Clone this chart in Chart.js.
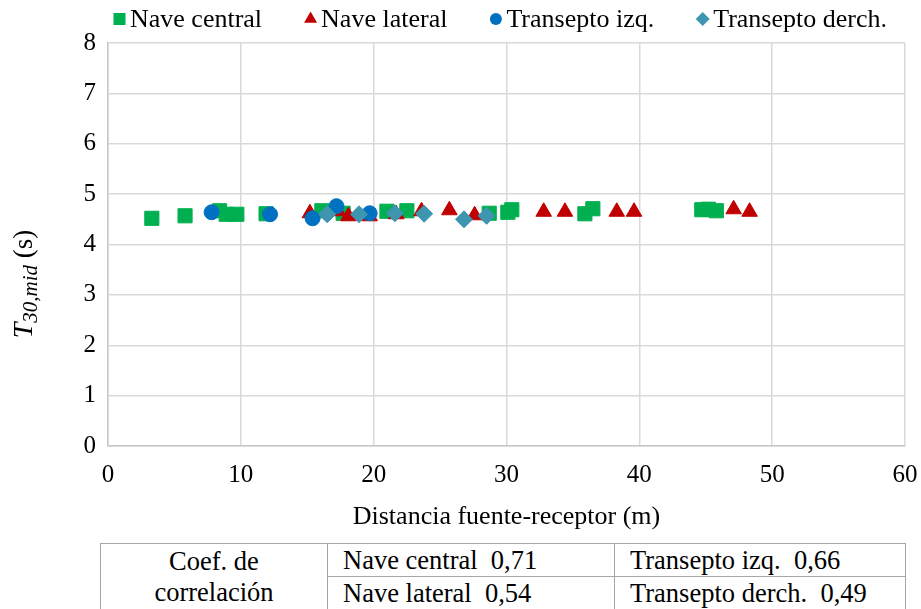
<!DOCTYPE html>
<html>
<head>
<meta charset="utf-8">
<script src="https://cdn.jsdelivr.net/npm/chart.js@4.4.0/dist/chart.umd.min.js"></script>
<style>
  html, body { margin: 0; padding: 0; background: #fff; }
  #wrap { position: relative; width: 921px; height: 609px; overflow: hidden; }
  #t30 { position: absolute; left: 0; top: 0; }
  table.coef {
    position: absolute; left: 100px; top: 543px; width: 805px;
    border-collapse: collapse; table-layout: fixed;
    font-family: 'Liberation Serif', 'Times New Roman', serif; font-size: 26.5px; color: #000;
  }
  table.coef td { border: 1.5px solid #A6A6A6; height: 32px; padding: 0 0 0 15px; white-space: pre; line-height: 32px; }
  table.coef td.head { text-align: center; padding: 0; line-height: 31px; }
</style>
</head>
<body>
<div id="wrap">
  <canvas id="t30" width="921" height="540"></canvas>
  <table class="coef">
    <colgroup><col style="width:227px"><col style="width:287px"><col style="width:291px"></colgroup>
    <tbody id="coef-body"></tbody>
  </table>
</div>
<script>
// T30,mid vs source-receiver distance, one series per zone of the church
const centralX = [3.3, 5.8, 8.4, 8.9, 9.7, 11.9, 16.1, 17.7, 21.0, 22.5, 28.7, 30.1, 30.4, 35.9, 36.5, 44.7, 45.2, 45.8];
const centralY = [4.52, 4.57, 4.67, 4.60, 4.60, 4.61, 4.67, 4.62, 4.66, 4.67, 4.62, 4.64, 4.69, 4.61, 4.71, 4.69, 4.70, 4.67];

const lateralX = [15.2, 17.3, 18.1, 19.7, 21.7, 23.6, 25.7, 27.6, 32.8, 34.4, 38.3, 39.6, 47.1, 48.3];
const lateralY = [4.62, 4.66, 4.56, 4.56, 4.60, 4.66, 4.68, 4.58, 4.65, 4.65, 4.65, 4.65, 4.70, 4.65];

const izqX = [7.8, 12.2, 15.4, 17.2, 19.7];
const izqY = [4.64, 4.60, 4.52, 4.76, 4.62];

const derchX = [16.5, 18.9, 21.6, 23.8, 26.8, 28.5];
const derchY = [4.60, 4.60, 4.62, 4.61, 4.50, 4.57];

const seriesNames = ['Nave central', 'Nave lateral', 'Transepto izq.', 'Transepto derch.'];
const correlation = ['0,71', '0,54', '0,66', '0,49'];

const xTicks = [0, 10, 20, 30, 40, 50, 60];
const yTicks = [0, 1, 2, 3, 4, 5, 6, 7, 8];

const SERIF = "'Liberation Serif', 'Times New Roman', serif";

function toPoints(xs, ys) {
    return xs.map((x, i) => ({ x: x, y: ys[i] }));
}

// coefficient table under the chart
function buildCoefTable() {
    const tbody = document.getElementById('coef-body');
    const r1 = document.createElement('tr');
    r1.innerHTML = `<td class="head" rowspan="2">Coef. de<br>correlación</td>` +
        `<td>${seriesNames[0]}  ${correlation[0]}</td><td>${seriesNames[2]}  ${correlation[2]}</td>`;
    const r2 = document.createElement('tr');
    r2.innerHTML = `<td>${seriesNames[1]}  ${correlation[1]}</td><td>${seriesNames[3]}  ${correlation[3]}</td>`;
    tbody.appendChild(r1);
    tbody.appendChild(r2);
}

// italic T with subscript, drawn rotated on the left side
const yTitlePlugin = {
    id: 'yTitle',
    afterDraw(chart) {
        const ctx = chart.ctx;
        const big = 'italic 28px ' + SERIF;
        const small = 'italic 21px ' + SERIF;
        const plain = '27px ' + SERIF;
        ctx.save();
        ctx.font = big; const wT = ctx.measureText('T').width;
        ctx.font = small; const wSub = ctx.measureText('30,mid').width;
        ctx.font = plain; const wS = ctx.measureText(' (s)').width;
        const total = wT + wSub + wS;
        ctx.translate(32, 284);
        ctx.rotate(-Math.PI / 2);
        ctx.fillStyle = '#000';
        ctx.textBaseline = 'alphabetic';
        let x = -total / 2;
        ctx.font = big; ctx.fillText('T', x, 0); x += wT;
        ctx.font = small; ctx.fillText('30,mid', x, 5); x += wSub;
        ctx.font = plain; ctx.fillText(' (s)', x, 0);
        ctx.restore();
    }
};

// legend row across the top: small marker tight against its label
const topLegend = {
    id: 'topLegend',
    afterDraw(chart) {
        const ctx = chart.ctx;
        const sizes = { rect: 8.5, triangle: 7.5, circle: 6, rectRot: 7 };
        const markerW = 13, gapIn = 4, gapOut = 42;
        ctx.save();
        ctx.font = '26px ' + SERIF;
        const items = chart.data.datasets.map(ds => ({
            text: ds.label, style: ds.pointStyle, color: ds.backgroundColor,
            w: ctx.measureText(ds.label).width
        }));
        const total = items.reduce((s, it) => s + markerW + gapIn + it.w, 0) + gapOut * (items.length - 1);
        let x = 500 - total / 2;
        const y = 19;
        items.forEach(it => {
            ctx.fillStyle = it.color;
            ctx.strokeStyle = it.color;
            Chart.helpers.drawPoint(ctx, { pointStyle: it.style, radius: sizes[it.style], rotation: 0, borderWidth: 0 }, x + markerW / 2, y);
            ctx.fillStyle = '#000';
            ctx.textBaseline = 'middle';
            ctx.textAlign = 'left';
            ctx.fillText(it.text, x + markerW + gapIn, y + 1);
            x += markerW + gapIn + it.w + gapOut;
        });
        ctx.restore();
    }
};

function dataset(label, xs, ys, color, style, radius, order) {
    return {
        label: label,
        data: toPoints(xs, ys),
        backgroundColor: color,
        borderColor: color,
        borderWidth: 1,
        pointStyle: style,
        pointRadius: radius,
        pointHoverRadius: radius,
        showLine: false,
        order: order
    };
}

document.addEventListener('DOMContentLoaded', () => {
    buildCoefTable();

    const ctx = document.getElementById('t30').getContext('2d');
    new Chart(ctx, {
        type: 'scatter',
        data: {
            datasets: [
                dataset(seriesNames[0], centralX, centralY, '#00B050', 'rect', 10, 4),
                dataset(seriesNames[1], lateralX, lateralY, '#C00000', 'triangle', 9, 3),
                dataset(seriesNames[2], izqX, izqY, '#0070C0', 'circle', 7.5, 2),
                dataset(seriesNames[3], derchX, derchY, '#3E95B0', 'rectRot', 8.5, 1)
            ]
        },
        options: {
            responsive: false,
            animation: false,
            layout: { padding: { left: 84, right: 16, top: 43, bottom: 0 } },
            plugins: {
                legend: { display: false },
                tooltip: { enabled: false }
            },
            scales: {
                x: {
                    type: 'linear',
                    min: 0,
                    max: 60,
                    afterBuildTicks: (axis) => { axis.ticks = xTicks.map(v => ({ value: v })); },
                    afterFit: (axis) => {
                        axis.height = 94;
                        axis.paddingLeft = 0;
                        axis.paddingRight = 0;
                    },
                    grid: { color: '#D9D9D9', lineWidth: 1.5, drawTicks: false },
                    border: { color: '#C8C8C8', width: 1.5 },
                    ticks: { color: '#000', padding: 14, font: { family: SERIF, size: 25 } },
                    title: {
                        display: true,
                        text: 'Distancia fuente-receptor (m)',
                        color: '#000',
                        font: { family: SERIF, size: 26 },
                        padding: { top: 4, bottom: 7 }
                    }
                },
                y: {
                    type: 'linear',
                    min: 0,
                    max: 8,
                    afterBuildTicks: (axis) => { axis.ticks = yTicks.map(v => ({ value: v })); },
                    afterFit: (axis) => {
                        axis.width = 24;
                        axis.paddingTop = 0;
                        axis.paddingBottom = 0;
                    },
                    grid: { color: '#D9D9D9', lineWidth: 1.5, drawTicks: false },
                    border: { color: '#C8C8C8', width: 1.5 },
                    ticks: { color: '#000', padding: 12, font: { family: SERIF, size: 25 } }
                }
            }
        },
        plugins: [topLegend, yTitlePlugin]
    });
});
</script>
</body>
</html>
